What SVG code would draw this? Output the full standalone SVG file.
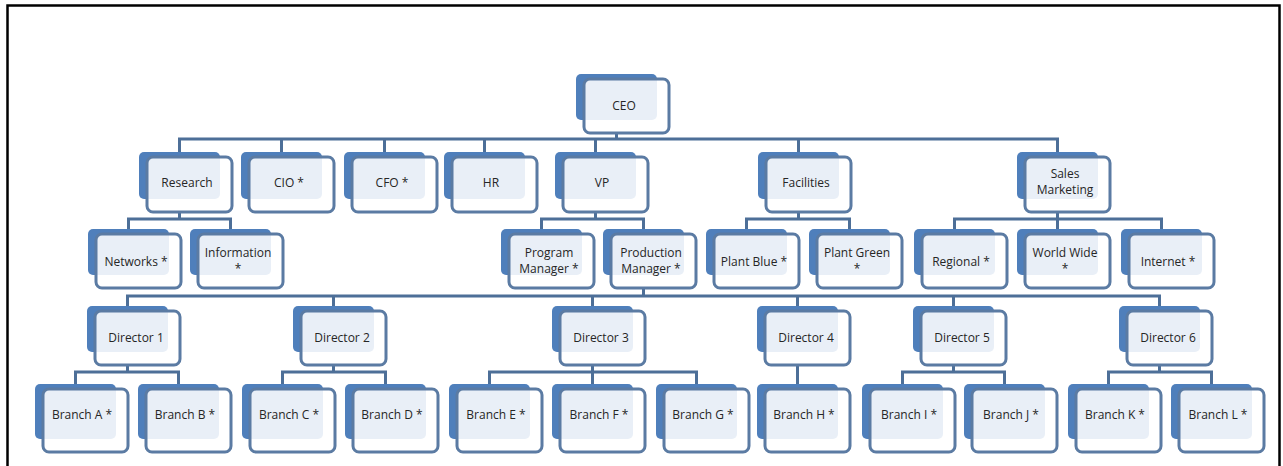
<svg xmlns="http://www.w3.org/2000/svg" width="1283" height="466" viewBox="0 0 1283 466">
<style>
.bk{fill:#4f7fbb}
.fr{fill:#fff;fill-opacity:.88;stroke:#5b7ba3;stroke-width:3}
.t{font-family:"Open Sans",sans-serif;font-size:12px;fill:#262626;text-anchor:middle}
.c{stroke:#4d6f98;stroke-width:3;fill:none}
</style>
<rect x="0" y="0" width="1283" height="466" fill="#fff"/>
<rect x="7.5" y="5.5" width="1272" height="500" fill="none" stroke="#000" stroke-width="2.5"/>
<g id="connectors" class="c">
<path d="M616.5 133V139M179.5 152V139H1057.5V152M281.5 139V152M384.5 139V152M484.5 139V152M595.5 139V152M798.5 139V152"/>
<path d="M179.5 212V219M128.5 229V219H230.5V229"/>
<path d="M595.5 212V219M541.5 229V219H643.5V229"/>
<path d="M798.5 212V219M746.5 229V219H849.5V229"/>
<path d="M1057.5 212V229M954.5 229V219H1161.5V229"/>
<path d="M643.5 288V296M127.5 306V296H1159.5V306M333.5 296V306M592.5 296V306M797.5 296V306M953.5 296V306"/>
<path d="M127.5 365V372M75.5 384V372H178.5V384"/>
<path d="M333.5 365V372M282.5 384V372H385.5V384"/>
<path d="M592.5 365V384M489.5 384V372H696.5V384"/>
<path d="M797.5 365V384"/>
<path d="M953.5 365V372M902.5 384V372H1004.5V384"/>
<path d="M1159.5 365V372M1108.5 384V372H1211.5V384"/>
</g>
<g id="ceo"><rect class="bk" x="576" y="74" width="81" height="46" rx="5"/><rect class="fr" x="584" y="79" width="85" height="54" rx="6"/><text class="t" x="624" y="110">CEO</text></g>
<g id="research"><rect class="bk" x="139" y="152" width="81" height="47" rx="5"/><rect class="fr" x="147" y="157" width="85" height="55" rx="6"/><text class="t" x="187" y="187">Research</text></g>
<g id="cio"><rect class="bk" x="241" y="152" width="81" height="47" rx="5"/><rect class="fr" x="249" y="157" width="85" height="55" rx="6"/><text class="t" x="289" y="187">CIO *</text></g>
<g id="cfo"><rect class="bk" x="344" y="152" width="81" height="47" rx="5"/><rect class="fr" x="352" y="157" width="85" height="55" rx="6"/><text class="t" x="392" y="187">CFO *</text></g>
<g id="hr"><rect class="bk" x="444" y="152" width="81" height="47" rx="5"/><rect class="fr" x="452" y="157" width="85" height="55" rx="6"/><text class="t" x="491" y="187">HR</text></g>
<g id="vp"><rect class="bk" x="555" y="152" width="81" height="47" rx="5"/><rect class="fr" x="563" y="157" width="85" height="55" rx="6"/><text class="t" x="602" y="187">VP</text></g>
<g id="facilities"><rect class="bk" x="758" y="152" width="81" height="47" rx="5"/><rect class="fr" x="766" y="157" width="85" height="55" rx="6"/><text class="t" x="806" y="187">Facilities</text></g>
<g id="sales"><rect class="bk" x="1017" y="152" width="81" height="47" rx="5"/><rect class="fr" x="1025" y="157" width="85" height="55" rx="6"/><text class="t" x="1065" y="178">Sales</text><text class="t" x="1065" y="194">Marketing</text></g>
<g id="networks"><rect class="bk" x="88" y="229" width="81" height="46" rx="5"/><rect class="fr" x="96" y="234" width="85" height="54" rx="6"/><text class="t" x="136" y="266">Networks *</text></g>
<g id="information"><rect class="bk" x="190" y="229" width="81" height="46" rx="5"/><rect class="fr" x="198" y="234" width="85" height="54" rx="6"/><text class="t" x="238" y="257">Information</text><text class="t" x="238" y="273">*</text></g>
<g id="program"><rect class="bk" x="501" y="229" width="81" height="46" rx="5"/><rect class="fr" x="509" y="234" width="85" height="54" rx="6"/><text class="t" x="549" y="257">Program</text><text class="t" x="549" y="273">Manager *</text></g>
<g id="production"><rect class="bk" x="603" y="229" width="81" height="46" rx="5"/><rect class="fr" x="611" y="234" width="85" height="54" rx="6"/><text class="t" x="651" y="257">Production</text><text class="t" x="651" y="273">Manager *</text></g>
<g id="plantblue"><rect class="bk" x="706" y="229" width="81" height="46" rx="5"/><rect class="fr" x="714" y="234" width="85" height="54" rx="6"/><text class="t" x="754" y="266">Plant Blue *</text></g>
<g id="plantgreen"><rect class="bk" x="809" y="229" width="81" height="46" rx="5"/><rect class="fr" x="817" y="234" width="85" height="54" rx="6"/><text class="t" x="857" y="257">Plant Green</text><text class="t" x="857" y="273">*</text></g>
<g id="regional"><rect class="bk" x="914" y="229" width="81" height="46" rx="5"/><rect class="fr" x="922" y="234" width="85" height="54" rx="6"/><text class="t" x="961" y="266">Regional *</text></g>
<g id="worldwide"><rect class="bk" x="1017" y="229" width="81" height="46" rx="5"/><rect class="fr" x="1025" y="234" width="85" height="54" rx="6"/><text class="t" x="1065" y="257">World Wide</text><text class="t" x="1065" y="273">*</text></g>
<g id="internet"><rect class="bk" x="1121" y="229" width="81" height="46" rx="5"/><rect class="fr" x="1129" y="234" width="85" height="54" rx="6"/><text class="t" x="1168" y="266">Internet *</text></g>
<g id="director1"><rect class="bk" x="87" y="306" width="81" height="46" rx="5"/><rect class="fr" x="95" y="311" width="85" height="54" rx="6"/><text class="t" x="136" y="342">Director 1</text></g>
<g id="director2"><rect class="bk" x="293" y="306" width="81" height="46" rx="5"/><rect class="fr" x="301" y="311" width="85" height="54" rx="6"/><text class="t" x="342" y="342">Director 2</text></g>
<g id="director3"><rect class="bk" x="552" y="306" width="81" height="46" rx="5"/><rect class="fr" x="560" y="311" width="85" height="54" rx="6"/><text class="t" x="601" y="342">Director 3</text></g>
<g id="director4"><rect class="bk" x="757" y="306" width="81" height="46" rx="5"/><rect class="fr" x="765" y="311" width="85" height="54" rx="6"/><text class="t" x="806" y="342">Director 4</text></g>
<g id="director5"><rect class="bk" x="913" y="306" width="81" height="46" rx="5"/><rect class="fr" x="921" y="311" width="85" height="54" rx="6"/><text class="t" x="962" y="342">Director 5</text></g>
<g id="director6"><rect class="bk" x="1119" y="306" width="81" height="46" rx="5"/><rect class="fr" x="1127" y="311" width="85" height="54" rx="6"/><text class="t" x="1168" y="342">Director 6</text></g>
<g id="branchA"><rect class="bk" x="35" y="384" width="81" height="55" rx="5"/><rect class="fr" x="43" y="389" width="85" height="63" rx="6"/><text class="t" x="82" y="419">Branch A *</text></g>
<g id="branchB"><rect class="bk" x="138" y="384" width="81" height="55" rx="5"/><rect class="fr" x="146" y="389" width="85" height="63" rx="6"/><text class="t" x="185" y="419">Branch B *</text></g>
<g id="branchC"><rect class="bk" x="242" y="384" width="81" height="55" rx="5"/><rect class="fr" x="250" y="389" width="85" height="63" rx="6"/><text class="t" x="289" y="419">Branch C *</text></g>
<g id="branchD"><rect class="bk" x="345" y="384" width="81" height="55" rx="5"/><rect class="fr" x="353" y="389" width="85" height="63" rx="6"/><text class="t" x="392" y="419">Branch D *</text></g>
<g id="branchE"><rect class="bk" x="449" y="384" width="81" height="55" rx="5"/><rect class="fr" x="457" y="389" width="85" height="63" rx="6"/><text class="t" x="496" y="419">Branch E *</text></g>
<g id="branchF"><rect class="bk" x="552" y="384" width="81" height="55" rx="5"/><rect class="fr" x="560" y="389" width="85" height="63" rx="6"/><text class="t" x="599" y="419">Branch F *</text></g>
<g id="branchG"><rect class="bk" x="656" y="384" width="81" height="55" rx="5"/><rect class="fr" x="664" y="389" width="85" height="63" rx="6"/><text class="t" x="703" y="419">Branch G *</text></g>
<g id="branchH"><rect class="bk" x="757" y="384" width="81" height="55" rx="5"/><rect class="fr" x="765" y="389" width="85" height="63" rx="6"/><text class="t" x="804" y="419">Branch H *</text></g>
<g id="branchI"><rect class="bk" x="862" y="384" width="81" height="55" rx="5"/><rect class="fr" x="870" y="389" width="85" height="63" rx="6"/><text class="t" x="909" y="419">Branch I *</text></g>
<g id="branchJ"><rect class="bk" x="964" y="384" width="81" height="55" rx="5"/><rect class="fr" x="972" y="389" width="85" height="63" rx="6"/><text class="t" x="1011" y="419">Branch J *</text></g>
<g id="branchK"><rect class="bk" x="1068" y="384" width="81" height="55" rx="5"/><rect class="fr" x="1076" y="389" width="85" height="63" rx="6"/><text class="t" x="1115" y="419">Branch K *</text></g>
<g id="branchL"><rect class="bk" x="1171" y="384" width="81" height="55" rx="5"/><rect class="fr" x="1179" y="389" width="85" height="63" rx="6"/><text class="t" x="1218" y="419">Branch L *</text></g>
</svg>
